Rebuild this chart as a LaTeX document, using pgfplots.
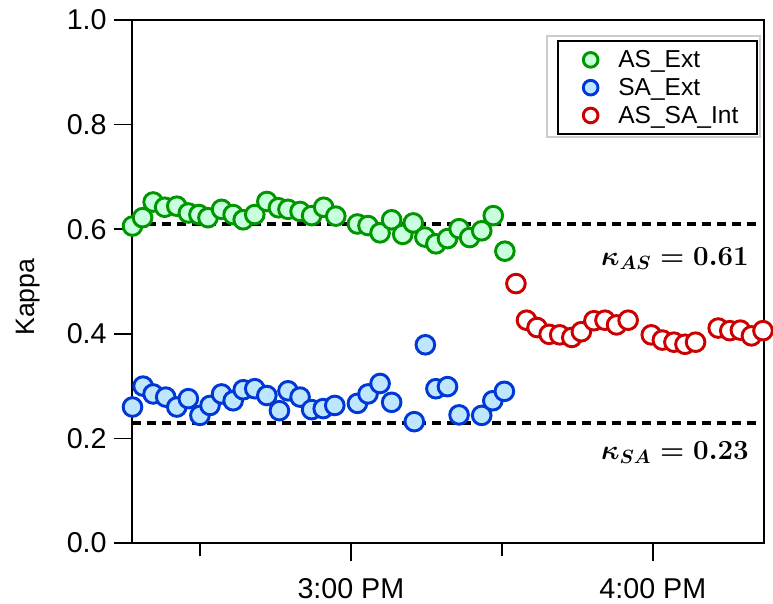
\documentclass[border=0pt]{standalone}
\usepackage{amsmath}
\usepackage{pgfplots}
\pgfplotsset{compat=1.18}
\usepackage{fontspec}
\setmainfont{Liberation Sans}

\definecolor{asline}{RGB}{0,150,0}
\definecolor{asfill}{RGB}{200,255,220}
\definecolor{saline}{RGB}{0,55,215}
\definecolor{safill}{RGB}{190,230,255}
\definecolor{intline}{RGB}{204,0,0}

% x = minutes after 2:00 PM
\pgfplotstableread{
t     k
16.6  0.606
18.6  0.622
20.7  0.652
23.0  0.642
25.4  0.644
27.7  0.631
29.8  0.628
31.6  0.622
34.3  0.638
36.6  0.628
38.6  0.618
40.9  0.628
43.3  0.653
45.6  0.641
47.5  0.638
49.9  0.634
52.2  0.626
54.6  0.642
57.0  0.625
61.3  0.610
63.4  0.607
65.8  0.593
68.1  0.618
70.3  0.590
72.4  0.612
74.7  0.585
76.9  0.572
79.2  0.582
81.5  0.601
83.6  0.584
86.0  0.597
88.3  0.626
90.6  0.558
}\asext

\pgfplotstableread{
t     k
16.6  0.260
18.7  0.300
20.7  0.285
23.2  0.279
25.4  0.260
27.7  0.276
30.0  0.244
32.0  0.263
34.3  0.285
36.6  0.272
38.6  0.293
40.9  0.295
43.3  0.282
45.8  0.253
47.5  0.291
49.9  0.279
52.2  0.255
54.5  0.257
56.8  0.263
61.3  0.267
63.4  0.285
65.8  0.305
68.1  0.269
72.6  0.232
74.8  0.379
76.9  0.295
79.2  0.299
81.5  0.245
86.0  0.244
88.2  0.272
90.5  0.290
}\saext

\pgfplotstableread{
t     k
92.8  0.496
94.9  0.426
97.0  0.412
99.4  0.399
101.5 0.398
103.9 0.393
105.8 0.404
108.3 0.425
110.5 0.426
112.8 0.417
115.1 0.426
119.7 0.398
121.9 0.388
124.2 0.384
126.4 0.380
128.5 0.384
133.0 0.411
135.3 0.406
137.4 0.407
139.6 0.396
141.9 0.406
}\intdata

\begin{document}
\begin{tikzpicture}
\useasboundingbox (-99pt,-45pt) rectangle (480.75pt,407.25pt);
\begin{axis}[
    scale only axis,
    width=474pt, height=392.25pt,
    xmin=16.5, xmax=142.1,
    ymin=0, ymax=1,
    clip=false,
    axis line style={line width=1.2pt},
    tick style={line width=1.2pt, black},
    tick align=outside,
    xtick pos=bottom, ytick pos=left,
    major tick length=13.5pt,
    minor tick length=10pt,
    xtick={60,120},
    xticklabels={3:00 PM, 4:00 PM},
    minor xtick={30,90},
    ytick={0,0.2,...,1.0},
    /pgf/number format/assume math mode=true,
    yticklabel style={/pgf/number format/fixed,
        /pgf/number format/precision=1,
        /pgf/number format/fixed zerofill, xshift=-2pt},
    xticklabel style={yshift=-9.5pt},
    tick label style={font=\fontsize{21.5}{23}\selectfont},
    ylabel={Kappa},
    ylabel style={font=\fontsize{20}{22}\selectfont,
        at={(axis description cs:-0.165,0.47)}, anchor=center},
    legend style={at={(rel axis cs:0.9905,0.9618)}, anchor=north east,
        draw=black, line width=1.5pt, fill=white,
        font=\fontsize{18.4}{20}\selectfont,
        inner xsep=12pt, inner ysep=5pt,
        row sep=2.5pt, column sep=0pt},
    legend cell align=left,
    legend image code/.code={
        \path (0pt,0pt) (30pt,0pt);
        \draw[mark size=5.5pt] plot coordinates {(12pt,0pt)};
    },
]
\addplot[only marks, mark=*, mark size=7pt,
    mark options={line width=2.2pt, draw=asline, fill=asfill}]
    table[x=t, y=k] {\asext};
\addlegendentry{AS\_Ext}
\addplot[only marks, mark=*, mark size=7pt,
    mark options={line width=2.2pt, draw=saline, fill=safill}]
    table[x=t, y=k] {\saext};
\addlegendentry{SA\_Ext}
\addplot[only marks, mark=*, mark size=7pt,
    mark options={line width=2.2pt, draw=intline, fill=white}]
    table[x=t, y=k] {\intdata};
\addlegendentry{AS\_SA\_Int}

% reference kappa values
\addplot[black, line width=3pt, dash pattern=on 6.75pt off 4.5pt, forget plot]
    coordinates {(16.5,0.61) (140.7,0.61)};
\addplot[black, line width=3pt, dash pattern=on 6.75pt off 4.5pt, forget plot]
    coordinates {(16.5,0.23) (140.7,0.23)};

% light outer frame of the legend, bottom axis stub
\draw[gray!40, line width=0.8pt] (rel axis cs:0.6566,0.7763) rectangle (rel axis cs:0.9937,0.9694);
\draw[line width=1.2pt] (rel axis cs:0,0) -- ++(-9pt,0pt);

\node[anchor=base east, font=\fontsize{21}{23}\selectfont]
    at (axis cs:140.0,0.53) {$\boldsymbol{\kappa_{AS} = 0.61}$};
\node[anchor=base east, font=\fontsize{21}{23}\selectfont]
    at (axis cs:140.0,0.159) {$\boldsymbol{\kappa_{SA} = 0.23}$};
\end{axis}
\end{tikzpicture}
\end{document}
